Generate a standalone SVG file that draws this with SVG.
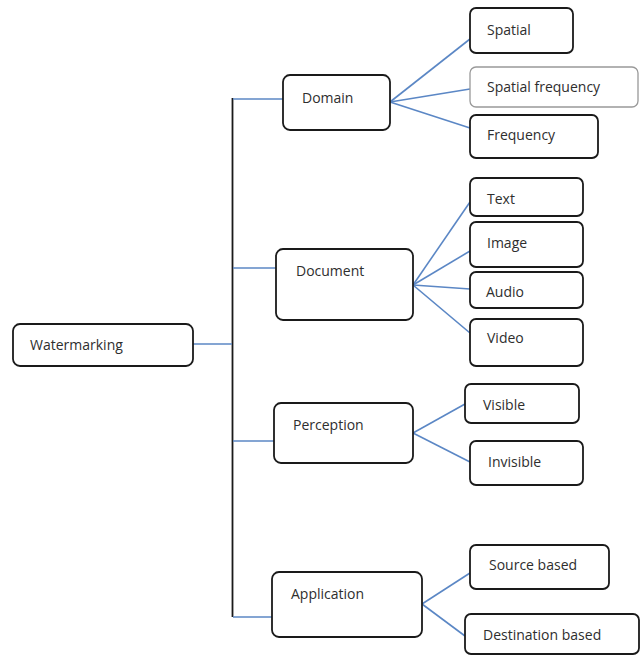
<svg xmlns="http://www.w3.org/2000/svg" width="641" height="655" viewBox="0 0 641 655">
<style>
.box{fill:#fff;stroke:#1a1a1a;stroke-width:1.8}
.lbox{fill:#fff;stroke:#999;stroke-width:1.3}
.t{font-family:"Open Sans","Liberation Sans",sans-serif;font-size:14px;fill:#2e2e2e}
.c{stroke:#5b87c5;stroke-width:1.6;fill:none}
.v{stroke:#1a1a1a;stroke-width:1.8;fill:none}
</style>
<rect width="641" height="655" fill="#fff"/>
<g id="connectors">
<line class="v" x1="232.5" y1="98" x2="232.5" y2="617"/>
<line class="c" x1="193" y1="344" x2="232" y2="344"/>
<line class="c" x1="233" y1="99" x2="283" y2="99"/>
<line class="c" x1="233" y1="268" x2="276" y2="268"/>
<line class="c" x1="233" y1="441" x2="274" y2="441"/>
<line class="c" x1="233" y1="617" x2="272" y2="617"/>
<line class="c" x1="390" y1="102" x2="470" y2="39"/>
<line class="c" x1="390" y1="102" x2="470" y2="89"/>
<line class="c" x1="390" y1="102" x2="470" y2="128"/>
<line class="c" x1="413" y1="285" x2="470" y2="202"/>
<line class="c" x1="413" y1="285" x2="470" y2="251"/>
<line class="c" x1="413" y1="285" x2="470" y2="289"/>
<line class="c" x1="413" y1="285" x2="470" y2="333"/>
<line class="c" x1="413" y1="433" x2="465" y2="404"/>
<line class="c" x1="413" y1="433" x2="470" y2="462"/>
<line class="c" x1="422" y1="604" x2="470" y2="573"/>
<line class="c" x1="422" y1="604" x2="465" y2="636"/>
</g>
<g id="watermarking"><rect class="box" x="13" y="324" width="180" height="42" rx="7"/><text class="t" x="30" y="350">Watermarking</text></g>
<g id="domain"><rect class="box" x="283" y="75" width="107" height="55" rx="7"/><text class="t" x="302" y="103">Domain</text></g>
<g id="document"><rect class="box" x="276" y="249" width="137" height="71" rx="7"/><text class="t" x="296" y="276">Document</text></g>
<g id="perception"><rect class="box" x="274" y="403" width="139" height="60" rx="7"/><text class="t" x="293" y="430">Perception</text></g>
<g id="application"><rect class="box" x="272" y="572" width="150" height="65" rx="7"/><text class="t" x="291" y="599">Application</text></g>
<g id="spatial"><rect class="box" x="470" y="8" width="103" height="45" rx="6"/><text class="t" x="487" y="35">Spatial</text></g>
<g id="spatial-frequency"><rect class="lbox" x="470" y="67" width="168" height="40" rx="6"/><text class="t" x="487" y="92">Spatial frequency</text></g>
<g id="frequency"><rect class="box" x="470" y="115" width="128" height="43" rx="6"/><text class="t" x="487" y="140">Frequency</text></g>
<g id="text"><rect class="box" x="470" y="178" width="113" height="38" rx="6"/><text class="t" x="487" y="204">Text</text></g>
<g id="image"><rect class="box" x="470" y="222" width="113" height="45" rx="6"/><text class="t" x="487" y="248">Image</text></g>
<g id="audio"><rect class="box" x="470" y="272" width="113" height="36" rx="6"/><text class="t" x="486" y="297">Audio</text></g>
<g id="video"><rect class="box" x="470" y="319" width="113" height="47" rx="6"/><text class="t" x="487" y="343">Video</text></g>
<g id="visible"><rect class="box" x="465" y="384" width="114" height="39" rx="6"/><text class="t" x="483" y="410">Visible</text></g>
<g id="invisible"><rect class="box" x="470" y="441" width="113" height="44" rx="6"/><text class="t" x="488" y="467">Invisible</text></g>
<g id="source-based"><rect class="box" x="470" y="545" width="139" height="44" rx="6"/><text class="t" x="489" y="570">Source based</text></g>
<g id="destination-based"><rect class="box" x="465" y="614" width="174" height="40" rx="6"/><text class="t" x="483" y="640">Destination based</text></g>
</svg>
